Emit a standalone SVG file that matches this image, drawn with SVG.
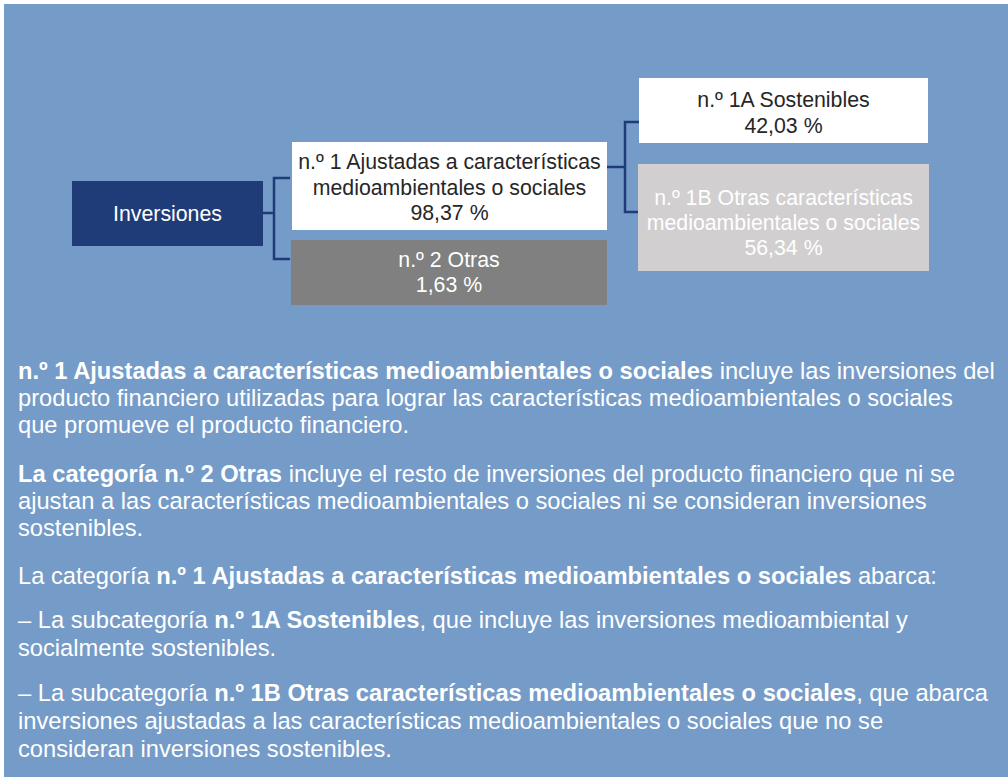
<svg xmlns="http://www.w3.org/2000/svg" width="1008" height="778" viewBox="0 0 1008 778">
<style>
text{font-family:'Liberation Sans',Arial,sans-serif}
.box text{font-size:21.3px;text-anchor:middle}
.dark{fill:#262626}
.light{fill:#ffffff}
.conn{fill:none;stroke:#1F3C78;stroke-width:2.5}
.para{font-size:23.7px;fill:#ffffff}
.b{font-weight:bold}
</style>
<rect x="4" y="4" width="1004" height="773" fill="#759BC8"/>
<g id="connectors">
<path class="conn" d="M263 213 H274 M290 178 H274 V259 H290"/>
<path class="conn" d="M607 167 H625 M639 122 H625 V212 H639"/>
</g>
<g id="inversiones" class="box">
<rect x="72" y="181" width="191" height="65" fill="#1F3C78"/>
<text x="167.5" y="221" class="light">Inversiones</text>
</g>
<g id="n1" class="box">
<rect x="292" y="142" width="315" height="88" fill="#ffffff"/>
<text x="449.5" y="169" class="dark">n.º 1 Ajustadas a características</text>
<text x="449.5" y="195" class="dark">medioambientales o sociales</text>
<text x="449.5" y="220" class="dark">98,37 %</text>
</g>
<g id="n2" class="box">
<rect x="291" y="240" width="316" height="65" fill="#808080"/>
<text x="449" y="267" class="light">n.º 2 Otras</text>
<text x="449" y="292" class="light">1,63 %</text>
</g>
<g id="n1a" class="box">
<rect x="639" y="78" width="289" height="65" fill="#ffffff"/>
<text x="783.5" y="107" class="dark">n.º 1A Sostenibles</text>
<text x="783.5" y="133" class="dark">42,03 %</text>
</g>
<g id="n1b" class="box">
<rect x="638" y="164" width="291" height="107" fill="#D1CFD0"/>
<text x="783.5" y="205" class="light">n.º 1B Otras características</text>
<text x="783.5" y="230" class="light">medioambientales o sociales</text>
<text x="783.5" y="255" class="light">56,34 %</text>
</g>
<g id="text">
<text class="para" x="18" y="379"><tspan class="b">n.º 1 Ajustadas a características medioambientales o sociales</tspan> incluye las inversiones del</text>
<text class="para" x="18" y="406">producto financiero utilizadas para lograr las características medioambientales o sociales</text>
<text class="para" x="18" y="433">que promueve el producto financiero.</text>
<text class="para" x="18" y="482"><tspan class="b">La categoría n.º 2 Otras</tspan> incluye el resto de inversiones del producto financiero que ni se</text>
<text class="para" x="18" y="509">ajustan a las características medioambientales o sociales ni se consideran inversiones</text>
<text class="para" x="18" y="536">sostenibles.</text>
<text class="para" x="18" y="584">La categoría <tspan class="b">n.º 1 Ajustadas a características medioambientales o sociales</tspan> abarca:</text>
<text class="para" x="18" y="628">– La subcategoría <tspan class="b">n.º 1A Sostenibles</tspan>, que incluye las inversiones medioambiental y</text>
<text class="para" x="18" y="656">socialmente sostenibles.</text>
<text class="para" x="18" y="701">– La subcategoría <tspan class="b">n.º 1B Otras características medioambientales o sociales</tspan>, que abarca</text>
<text class="para" x="18" y="729">inversiones ajustadas a las características medioambientales o sociales que no se</text>
<text class="para" x="18" y="757">consideran inversiones sostenibles.</text>
</g>
</svg>
